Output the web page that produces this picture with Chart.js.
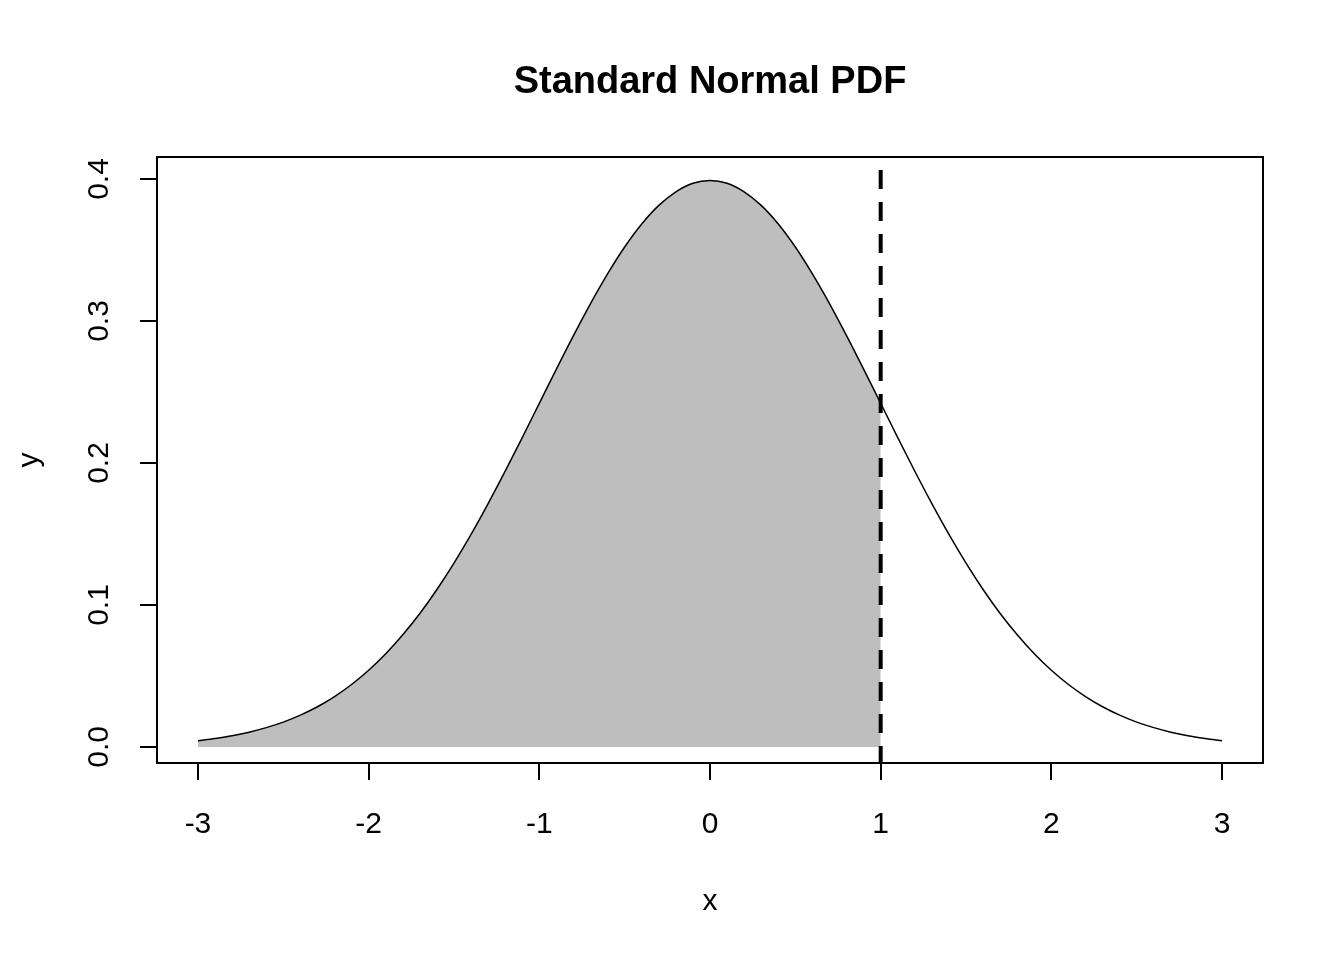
<!DOCTYPE html>
<html>
<head>
<meta charset="utf-8">
<script src="https://cdn.jsdelivr.net/npm/chart.js@4/dist/chart.umd.min.js"></script>
<style>
  html, body { margin: 0; padding: 0; background: #fff; }
  #wrap { width: 1344px; height: 960px; }
</style>
</head>
<body>
<div id="wrap"><canvas id="myChart" width="1344" height="960"></canvas></div>
<script>
// values (standard normal density at 0.1 steps)
const xValues = [-3.0, -2.9, -2.8, -2.7, -2.6, -2.5, -2.4, -2.3, -2.2, -2.1,
                 -2.0, -1.9, -1.8, -1.7, -1.6, -1.5, -1.4, -1.3, -1.2, -1.1,
                 -1.0, -0.9, -0.8, -0.7, -0.6, -0.5, -0.4, -0.3, -0.2, -0.1,
                  0.0,  0.1,  0.2,  0.3,  0.4,  0.5,  0.6,  0.7,  0.8,  0.9,
                  1.0,  1.1,  1.2,  1.3,  1.4,  1.5,  1.6,  1.7,  1.8,  1.9,
                  2.0,  2.1,  2.2,  2.3,  2.4,  2.5,  2.6,  2.7,  2.8,  2.9, 3.0];
const yValues = [0.0044, 0.0060, 0.0079, 0.0104, 0.0136, 0.0175, 0.0224, 0.0283, 0.0355, 0.0440,
                 0.0540, 0.0656, 0.0790, 0.0940, 0.1109, 0.1295, 0.1497, 0.1714, 0.1942, 0.2179,
                 0.2420, 0.2661, 0.2897, 0.3123, 0.3332, 0.3521, 0.3683, 0.3814, 0.3910, 0.3970,
                 0.3989, 0.3970, 0.3910, 0.3814, 0.3683, 0.3521, 0.3332, 0.3123, 0.2897, 0.2661,
                 0.2420, 0.2179, 0.1942, 0.1714, 0.1497, 0.1295, 0.1109, 0.0940, 0.0790, 0.0656,
                 0.0540, 0.0440, 0.0355, 0.0283, 0.0224, 0.0175, 0.0136, 0.0104, 0.0079, 0.0060, 0.0044];
const cutoff = 1;
const cutLineY = [0.4063, -0.03];
const xTicks = [-3, -2, -1, 0, 1, 2, 3];
const yTicks = [0.0, 0.1, 0.2, 0.3, 0.4];

const curve = xValues.map((x, i) => ({x: x, y: yValues[i]}));
const shaded = curve.filter(p => p.x <= cutoff + 1e-9);
const cutLine = cutLineY.map(y => ({x: cutoff, y: y}));

const FONT = "'Liberation Sans', Arial, Helvetica, sans-serif";

const boxAndTitle = {
    id: 'boxAndTitle',
    afterDraw(chart) {
        const a = chart.chartArea;
        const c = chart.ctx;
        c.save();
        c.strokeStyle = '#000';
        c.lineWidth = 2;
        c.strokeRect(a.left, a.top, a.right - a.left, a.bottom - a.top);
        c.fillStyle = '#000';
        c.font = 'bold 38px ' + FONT;
        c.textAlign = 'center';
        c.textBaseline = 'middle';
        c.fillText('Standard Normal PDF', (a.left + a.right) / 2, 83);
        c.restore();
    }
};

Chart.defaults.font.family = FONT;
Chart.defaults.color = '#000';

new Chart(document.getElementById('myChart'), {
    type: 'line',
    data: {
        datasets: [
            {
                label: 'cutoff',
                data: cutLine,
                borderColor: '#000',
                borderWidth: 4,
                borderDash: [19, 13],
                pointRadius: 0,
                fill: false
            },
            {
                label: 'density',
                data: curve,
                borderColor: '#000',
                borderWidth: 1.5,
                pointRadius: 0,
                cubicInterpolationMode: 'monotone',
                fill: false
            },
            {
                label: 'area',
                data: shaded,
                borderColor: 'rgba(0,0,0,0)',
                borderWidth: 0,
                backgroundColor: '#BEBEBE',
                pointRadius: 0,
                cubicInterpolationMode: 'monotone',
                fill: 'origin'
            }
        ]
    },
    options: {
        responsive: false,
        animation: false,
        events: [],
        layout: { padding: { top: 157, left: 0, right: 81, bottom: 0 } },
        plugins: {
            legend: { display: false },
            tooltip: { enabled: false }
        },
        scales: {
            x: {
                type: 'linear',
                min: -3.24,
                max: 3.24,
                afterBuildTicks: (s) => { s.ticks = xTicks.map(v => ({value: v})); },
                afterFit: (s) => { s.height = 197; },
                border: { display: false },
                grid: { drawOnChartArea: false, drawTicks: true, tickLength: 17, color: '#000', lineWidth: 2 },
                ticks: {
                    font: { size: 30 },
                    padding: 27,
                    maxRotation: 0,
                    callback: (v) => String(v)
                },
                title: {
                    display: true,
                    text: 'x',
                    font: { size: 30 },
                    padding: { top: 0, bottom: 40 }
                }
            },
            y: {
                type: 'linear',
                min: -0.0113,
                max: 0.4155,
                afterBuildTicks: (s) => { s.ticks = yTicks.map(v => ({value: v})); },
                afterFit: (s) => { s.width = 157; },
                border: { display: false },
                grid: { drawOnChartArea: false, drawTicks: true, tickLength: 17, color: '#000', lineWidth: 2 },
                ticks: {
                    font: { size: 30 },
                    padding: 19,
                    minRotation: 90,
                    maxRotation: 90,
                    crossAlign: 'center',
                    callback: (v) => v.toFixed(1)
                },
                title: {
                    display: true,
                    text: 'y',
                    font: { size: 30 },
                    padding: { top: 12, bottom: 0 }
                }
            }
        }
    },
    plugins: [boxAndTitle]
});
</script>
</body>
</html>
